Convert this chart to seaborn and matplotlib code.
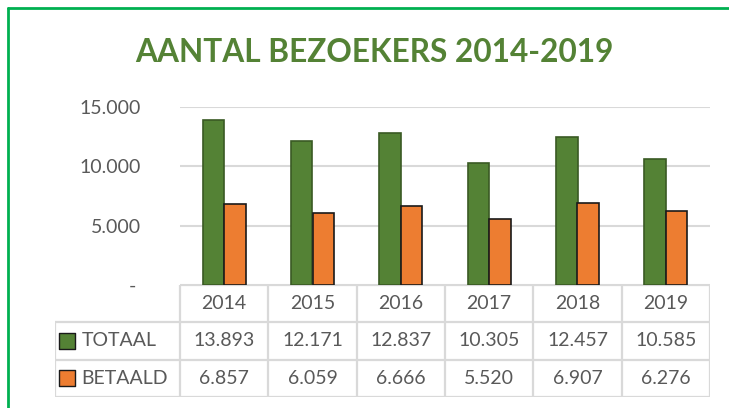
import pandas as pd
import matplotlib.pyplot as plt
import seaborn as sns

# chart values
jaren = ["2014", "2015", "2016", "2017", "2018", "2019"]
totaal = [13893, 12171, 12837, 10305, 12457, 10585]
betaald = [6857, 6059, 6666, 5520, 6907, 6276]
reeksen = ["TOTAAL", "BETAALD"]
y_ticks = [0, 5000, 10000, 15000]
y_labels = ["-", "5.000", "10.000", "15.000"]
titel = "AANTAL BEZOEKERS 2014-2019"

GREEN = "#548235"
ORANGE = "#ED7D31"
EDGES = ["#3A5A24", "#1a1a1a"]
GRID = "#D9D9D9"
TXT = "#595959"
FONT = "Lato"
FS = 14


def fmt(v):
    return f"{v:,}".replace(",", ".")


df = pd.DataFrame({
    "jaar": jaren * 2,
    "aantal": totaal + betaald,
    "reeks": [reeksen[0]] * len(jaren) + [reeksen[1]] * len(jaren),
})

sns.set_theme(style="white")
plt.rcParams["font.family"] = [FONT, "DejaVu Sans"]

W, H = 729, 408
fig = plt.figure(figsize=(W / 100, H / 100), dpi=100)


def box(x0, y0, x1, y1):
    # pixel box (top-left origin) -> figure fraction rect
    return [x0 / W, 1 - y1 / H, (x1 - x0) / W, (y1 - y0) / H]


# outer green frame
fig.add_artist(plt.Line2D([8 / W, 8 / W], [0, 1 - 8 / H], color="#00B050", lw=2))
fig.add_artist(plt.Line2D([8 / W, 1], [1 - 8 / H, 1 - 8 / H], color="#00B050", lw=2))

fig.text(374 / W, 1 - 53 / H, titel, ha="center", va="center", color=GREEN,
         fontsize=22.8, fontweight="bold")

# bars
ax = fig.add_axes(box(180, 107, 710, 285))
sns.barplot(data=df, x="jaar", y="aantal", hue="reeks", palette=[GREEN, ORANGE],
            width=0.49, saturation=1, legend=False, ax=ax, zorder=3)
for i, cont in enumerate(ax.containers):
    for p in cont:
        p.set_edgecolor(EDGES[i])
        p.set_linewidth(1.2)
ax.set_xlim(-0.5, len(jaren) - 0.5)
ax.set_ylim(0, 15000)
ax.set_yticks(y_ticks)
ax.set_yticklabels(y_labels)
ax.tick_params(axis="y", length=0, pad=28, labelsize=FS, labelcolor=TXT)
ax.tick_params(axis="x", length=0, labelbottom=False)
ax.set_xlabel("")
ax.set_ylabel("")
ax.grid(axis="y", color=GRID, lw=1.5, zorder=0)
sns.despine(ax=ax, left=True, bottom=True, top=True, right=True)
for lab in ax.get_yticklabels():
    if lab.get_text() == "-":
        lab.set_x(-0.01)

# data table below the bars
unit = (710 - 180) / len(jaren)
left = -0.5 - (180 - 55) / unit
tb = fig.add_axes(box(55, 285, 710, 397))
tb.set_xlim(left, len(jaren) - 0.5)
tb.set_ylim(3, 0)
tb.axis("off")
n = len(jaren)
lk = dict(color=GRID, lw=1.6, solid_capstyle="butt")
tb.plot([-0.5, n - 0.5], [0, 0], **lk)
for r in (1, 2, 3):
    tb.plot([left, n - 0.5], [r, r], **lk)
for c in range(n + 1):
    tb.plot([c - 0.5, c - 0.5], [0, 3], **lk)
tb.plot([left, left], [1, 3], **lk)

for c, j in enumerate(jaren):
    tb.text(c, 0.5, j, ha="center", va="center", fontsize=FS, color=TXT)
rows = [totaal, betaald]
colors = [GREEN, ORANGE]
for r, (naam, vals) in enumerate(zip(reeksen, rows)):
    y = r + 1.5
    for c, v in enumerate(vals):
        tb.text(c, y, fmt(v), ha="center", va="center", fontsize=FS, color=TXT)
    tb.scatter([left + 0.14], [y], marker="s", s=120, color=colors[r],
               edgecolor="#1a1a1a", lw=1, clip_on=False)
    tb.text(left + 0.3, y, naam, ha="left", va="center", fontsize=FS, color=TXT)

fig.savefig("out.png", dpi=100)
